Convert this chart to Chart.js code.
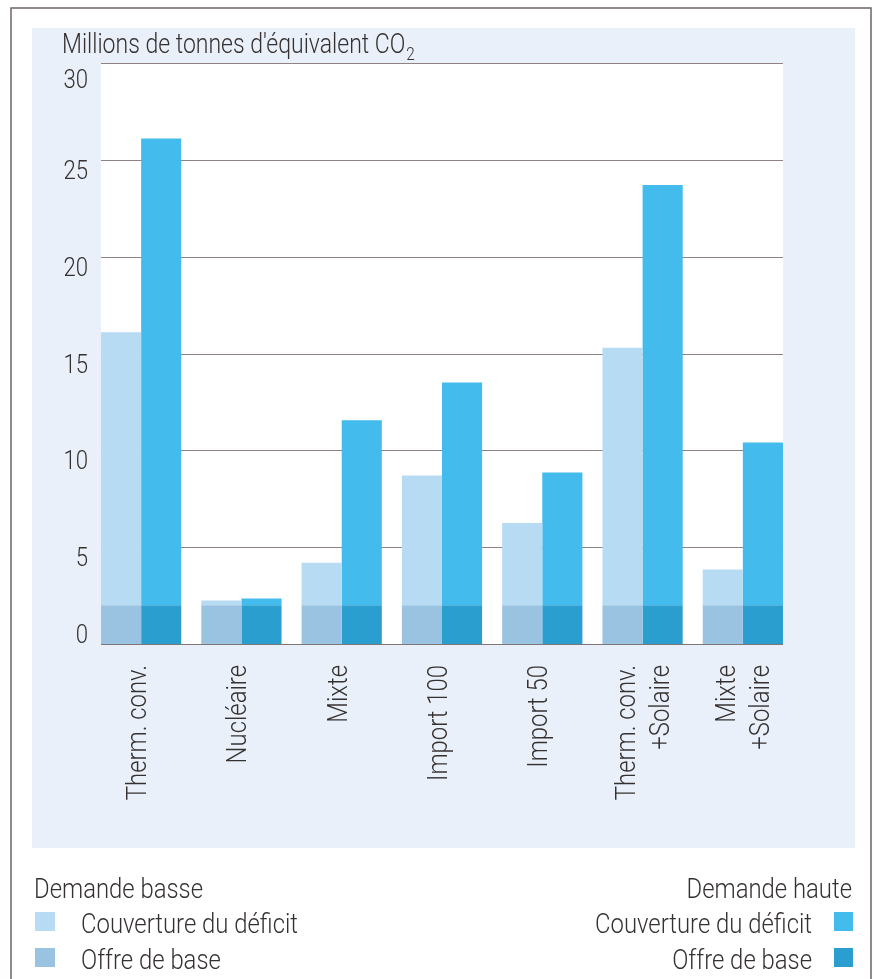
<!DOCTYPE html>
<html>
<head>
<meta charset="utf-8">
<script src="https://cdn.jsdelivr.net/npm/chart.js@4"></script>
<style>
  html, body { margin: 0; padding: 0; background: #fff; }
  #graphique { display: block; }
</style>
</head>
<body>
<canvas id="graphique" width="874" height="979"></canvas>
<script>
// categories (multi-line labels as arrays)
const categories = [
    ["Therm. conv."],
    ["Nucléaire"],
    ["Mixte"],
    ["Import 100"],
    ["Import 50"],
    ["Therm. conv.", "+Solaire"],
    ["Mixte", "+Solaire"],
];

// Demande basse
const offreBasse = [2, 2, 2, 2, 2, 2, 2];
const deficitBasse = [14.1, 0.25, 2.2, 6.7, 4.25, 13.3, 1.85];

// Demande haute
const offreHaute = [2, 2, 2, 2, 2, 2, 2];
const deficitHaute = [24.1, 0.35, 9.55, 11.5, 6.85, 21.7, 8.4];

const yTicks = [0, 5, 10, 15, 20, 25, 30];

const titreAxe = "Millions de tonnes d'équivalent CO";

const couleurs = {
    deficitBasse: "#b6dbf3",
    offreBasse: "#9ac3e2",
    deficitHaute: "#43bbec",
    offreHaute: "#2a9fcf",
};

const police = 'Roboto, "Noto Sans", sans-serif';
const texte = "#363131";

// police étroite : on comprime horizontalement le texte
let serrage = 1;

function ecrire(ctx, str, x, y, align, taille, rot) {
    ctx.save();
    ctx.font = "300 " + taille + "px " + police;
    ctx.textAlign = "left";
    ctx.textBaseline = "alphabetic";
    const w = ctx.measureText(str).width * serrage;
    ctx.translate(x, y);
    if (rot) ctx.rotate(rot);
    let dx = 0;
    if (align === "right") dx = -w;
    if (align === "center") dx = -w / 2;
    ctx.translate(dx, 0);
    ctx.scale(serrage, 1);
    ctx.fillText(str, 0, 0);
    ctx.restore();
    return w;
}

// fond, cadre, zone blanche et grille
const decorPlugin = {
    id: "decor",
    beforeDraw(chart) {
        const ctx = chart.ctx;
        const area = chart.chartArea;
        const x = chart.scales.x;
        const y = chart.scales.y;
        const catW = (area.right - area.left) / categories.length;
        const left = area.left + catW * 0.1;
        const right = area.right - catW * 0.1;

        ctx.save();
        ctx.font = "300 28px " + police;
        serrage = 217 / ctx.measureText("Couverture du déficit").width;

        ctx.fillStyle = "#ffffff";
        ctx.fillRect(0, 0, chart.width, chart.height);

        // cadre extérieur
        ctx.strokeStyle = "#6f6464";
        ctx.lineWidth = 1.5;
        ctx.beginPath();
        ctx.moveTo(11, 979);
        ctx.lineTo(11, 8);
        ctx.lineTo(871, 8);
        ctx.lineTo(871, 979);
        ctx.stroke();

        // panneau bleu clair
        ctx.fillStyle = "#e9f0f9";
        ctx.fillRect(32, 28, 823, 820);

        // zone du graphique
        ctx.fillStyle = "#ffffff";
        ctx.fillRect(left, y.getPixelForValue(30), right - left, y.getPixelForValue(0) - y.getPixelForValue(30));

        // lignes de grille
        ctx.strokeStyle = "#8e8282";
        ctx.lineWidth = 1;
        yTicks.forEach((v) => {
            if (v === 0) return;
            const py = Math.round(y.getPixelForValue(v)) + 0.5;
            ctx.beginPath();
            ctx.moveTo(left, py);
            ctx.lineTo(right, py);
            ctx.stroke();
        });

        ctx.fillStyle = texte;

        // étiquettes Y
        yTicks.forEach((v) => {
            const py = y.getPixelForValue(v);
            let dy = 19;
            if (v === 0) dy = -1;
            if (v === 30) dy = 25;
            ecrire(ctx, String(v), 88, py + dy, "right", 26);
        });

        // titre de l'axe
        const w = ecrire(ctx, titreAxe, 62, 53, "left", 27);
        ecrire(ctx, "2", 62 + w + 1, 60, "left", 18);

        // étiquettes X (verticales)
        categories.forEach((lignes, i) => {
            const cx = x.getPixelForValue(i);
            lignes.forEach((ligne, j) => {
                let bx = cx + 5;
                if (lignes.length === 2) bx = cx - 8 + j * 34;
                ecrire(ctx, ligne, bx, 665, "right", 28, -Math.PI / 2);
            });
        });

        // légende
        ecrire(ctx, "Demande basse", 34, 898, "left", 28);
        ecrire(ctx, "Couverture du déficit", 81, 933, "left", 28);
        ecrire(ctx, "Offre de base", 81, 969, "left", 28);
        ctx.fillStyle = couleurs.deficitBasse;
        ctx.fillRect(35, 912, 20, 19);
        ctx.fillStyle = couleurs.offreBasse;
        ctx.fillRect(35, 948, 20, 19);

        ctx.fillStyle = texte;
        ecrire(ctx, "Demande haute", 852, 898, "right", 28);
        ecrire(ctx, "Couverture du déficit", 812, 933, "right", 28);
        ecrire(ctx, "Offre de base", 812, 969, "right", 28);
        ctx.fillStyle = couleurs.deficitHaute;
        ctx.fillRect(834, 912, 19, 19);
        ctx.fillStyle = couleurs.offreHaute;
        ctx.fillRect(834, 948, 19, 19);
        ctx.restore();
    },
    afterDatasetsDraw(chart) {
        const ctx = chart.ctx;
        const area = chart.chartArea;
        const y = chart.scales.y;
        const catW = (area.right - area.left) / categories.length;
        const py = Math.round(y.getPixelForValue(0)) + 0.5;
        ctx.save();
        ctx.strokeStyle = "#7d7676";
        ctx.lineWidth = 1.2;
        ctx.beginPath();
        ctx.moveTo(area.left + catW * 0.1, py);
        ctx.lineTo(area.right - catW * 0.1, py);
        ctx.stroke();
        ctx.restore();
    },
};

const ctx = document.getElementById("graphique").getContext("2d");

new Chart(ctx, {
    type: "bar",
    data: {
        labels: categories,
        datasets: [
            { label: "Offre de base (basse)", data: offreBasse, backgroundColor: couleurs.offreBasse, stack: "basse" },
            { label: "Couverture du déficit (basse)", data: deficitBasse, backgroundColor: couleurs.deficitBasse, stack: "basse" },
            { label: "Offre de base (haute)", data: offreHaute, backgroundColor: couleurs.offreHaute, stack: "haute" },
            { label: "Couverture du déficit (haute)", data: deficitHaute, backgroundColor: couleurs.deficitHaute, stack: "haute" },
        ],
    },
    options: {
        responsive: false,
        animation: false,
        devicePixelRatio: 1,
        layout: { padding: { left: 91, right: 81, top: 63, bottom: 335 } },
        datasets: {
            bar: { categoryPercentage: 0.8, barPercentage: 1.0, borderWidth: 0 },
        },
        plugins: {
            legend: { display: false },
            tooltip: { enabled: false },
        },
        scales: {
            x: { display: false, stacked: true },
            y: { display: false, stacked: true, min: 0, max: 30 },
        },
    },
    plugins: [decorPlugin],
});
</script>
</body>
</html>
